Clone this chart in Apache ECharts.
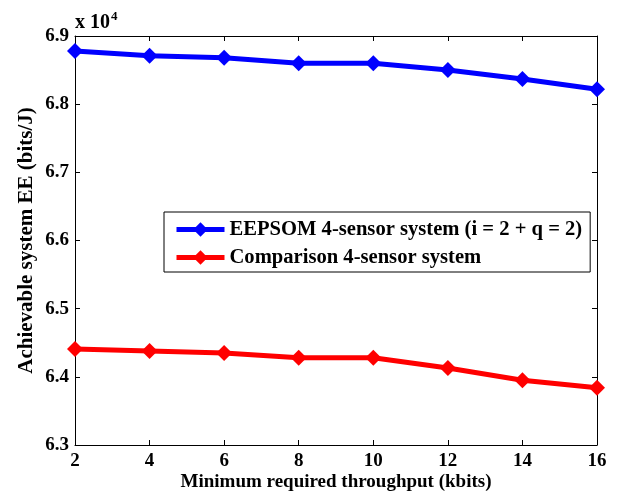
<!DOCTYPE html>
<html>
<head>
<meta charset="utf-8">
<script src="https://cdn.jsdelivr.net/npm/echarts@6/dist/echarts.min.js"></script>
<style>
  html, body { margin: 0; padding: 0; background: #fff; }
  #chart { width: 618px; height: 495px; }
</style>
</head>
<body>
<div id="chart"></div>
<script>
// throughput (kbits)
const throughput = [2, 4, 6, 8, 10, 12, 14, 16];
// EE values, in units of 10^4 bits/J
const eepsomEE = [6.878, 6.871, 6.868, 6.860, 6.860, 6.850, 6.837, 6.822];
const comparisonEE = [6.441, 6.438, 6.435, 6.428, 6.428, 6.413, 6.395, 6.384];

const seriesNames = ['EEPSOM 4-sensor system (i = 2 + q = 2)', 'Comparison 4-sensor system'];
const font = 'Liberation Serif';

const chart = echarts.init(document.getElementById('chart'));

const baseX = {
    type: 'value',
    min: 2,
    max: 16,
    interval: 2,
    axisLine: { lineStyle: { color: '#000', width: 1 } },
    axisTick: { inside: true, length: 5, lineStyle: { color: '#000' } },
    splitLine: { show: false }
};
const baseY = {
    type: 'value',
    min: 6.3,
    max: 6.9,
    interval: 0.1,
    axisLine: { show: true, lineStyle: { color: '#000', width: 1 } },
    axisTick: { show: true, inside: true, length: 5, lineStyle: { color: '#000' } },
    splitLine: { show: false }
};

chart.setOption({
    animation: false,
    grid: { left: 75, right: 21, top: 36, bottom: 50, outerBoundsMode: 'none' },
    legend: {
        orient: 'vertical',
        left: 164,
        top: 212,
        padding: [7, 8, 4, 10],
        itemGap: 7,
        itemWidth: 48,
        itemHeight: 18,
        backgroundColor: '#fff',
        borderColor: '#000',
        borderWidth: 1,
        borderRadius: 0,
        lineStyle: { width: 5 },
        textStyle: { fontFamily: font, fontWeight: 'bold', fontSize: 20.6, color: '#000' },
        data: seriesNames
    },
    graphic: [{
        type: 'text',
        left: 75,
        top: 10,
        style: {
            text: 'x 10{s|4}',
            rich: { s: { fontSize: 13, fontFamily: font, fontWeight: 'bold', verticalAlign: 'top', padding: [0, 0, 12, 1] } },
            fontFamily: font,
            fontWeight: 'bold',
            fontSize: 20,
            fill: '#000'
        }
    }],
    xAxis: [
        Object.assign({}, baseX, {
            position: 'bottom',
            name: 'Minimum required throughput (kbits)',
            nameLocation: 'middle',
            nameGap: 28,
            nameMoveOverlap: false,
            nameTextStyle: { fontFamily: font, fontWeight: 'bold', fontSize: 19, color: '#000' },
            axisLabel: { fontFamily: font, fontWeight: 'bold', fontSize: 19, color: '#000', margin: 7 }
        }),
        Object.assign({}, baseX, { position: 'top', axisLabel: { show: false } })
    ],
    yAxis: [
        Object.assign({}, baseY, {
            position: 'left',
            name: 'Achievable system EE (bits/J)',
            nameLocation: 'middle',
            nameGap: 38,
            nameMoveOverlap: false,
            nameTextStyle: { fontFamily: font, fontWeight: 'bold', fontSize: 21, color: '#000' },
            axisLabel: {
                fontFamily: font, fontWeight: 'bold', fontSize: 19, color: '#000', margin: 6,
                formatter: v => v.toFixed(1)
            }
        }),
        Object.assign({}, baseY, { position: 'right', axisLabel: { show: false } })
    ],
    series: [
        {
            name: seriesNames[0],
            type: 'line',
            data: throughput.map((x, i) => [x, eepsomEE[i]]),
            symbol: 'diamond',
            symbolSize: 16,
            showAllSymbol: true,
            itemStyle: { color: '#0000ff' },
            lineStyle: { color: '#0000ff', width: 5 }
        },
        {
            name: seriesNames[1],
            type: 'line',
            data: throughput.map((x, i) => [x, comparisonEE[i]]),
            symbol: 'diamond',
            symbolSize: 16,
            showAllSymbol: true,
            itemStyle: { color: '#ff0000' },
            lineStyle: { color: '#ff0000', width: 5 }
        }
    ]
});
</script>
</body>
</html>
